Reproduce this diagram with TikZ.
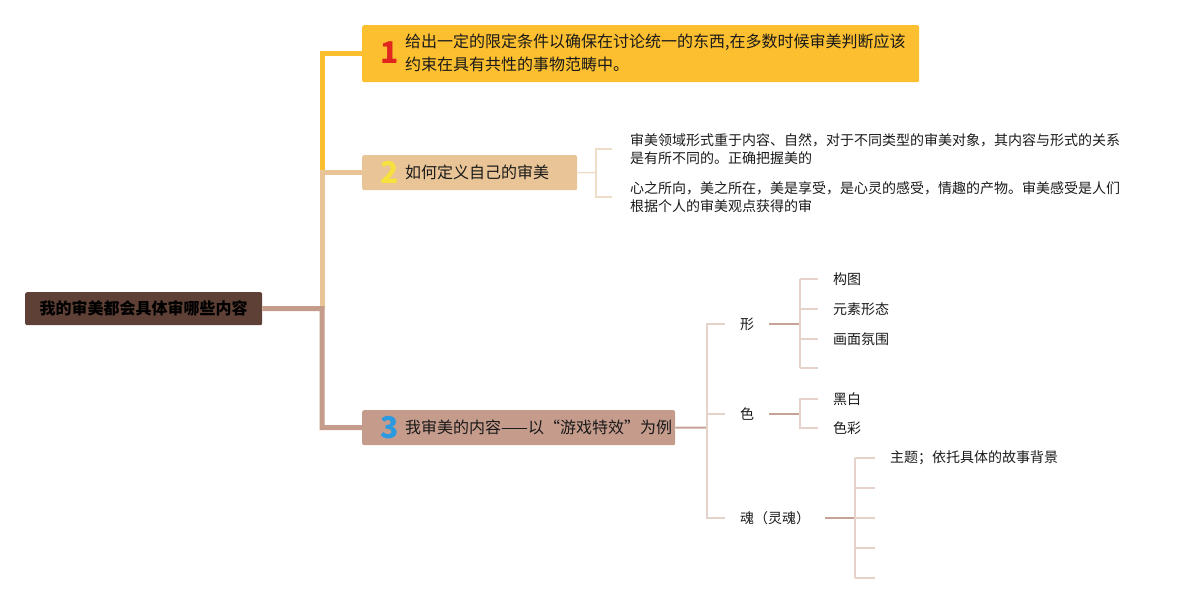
\documentclass[tikz,border=0pt]{standalone}
\usepackage{fontspec}
\setmainfont{Noto Sans CJK SC}
\usepackage{tikz}
\usetikzlibrary{positioning}
\definecolor{rootbrown}{HTML}{5F4036}
\definecolor{gold}{HTML}{FBBF2F}
\definecolor{tan}{HTML}{E8C497}
\definecolor{brn}{HTML}{C59B8C}
\definecolor{linkdk}{HTML}{C6A396}
\definecolor{linklt}{HTML}{E4D2CB}
\definecolor{linktan}{HTML}{EEDDC8}
\definecolor{numred}{HTML}{E0261F}
\definecolor{numyel}{HTML}{F7E13C}
\definecolor{numblu}{HTML}{2B9AE0}
\definecolor{txt}{HTML}{1A1A1A}

\begin{document}
\begin{tikzpicture}[x=1pt, y=-1pt,
  font=\fontsize{16}{23}\selectfont,
  box/.style={rounded corners=2pt, inner sep=0pt, anchor=north west},
  num/.style={font=\fontsize{30}{30}\selectfont\bfseries, inner sep=0pt},
  btext/.style={anchor=west, align=left, inner sep=0pt, text=txt},
  trunk/.style={line width=5pt},
  leaf/.style={anchor=west, inner xsep=15pt, inner ysep=2pt, align=left,
               font=\fontsize{14}{18}\selectfont, text=txt},
  lnk/.style={line width=2pt, linkdk},
  stub/.style={line width=2pt, linklt},
  tstub/.style={line width=1.5pt, linktan}
]
\useasboundingbox (0,0) rectangle (1189,603);
% ----- root and main branches -----
\node[box, fill=rootbrown, minimum width=237, minimum height=33,
      font=\fontsize{16}{20}\selectfont\bfseries] (root) at (25,292) {我的审美都会具体审哪些内容};
\node[box, fill=gold, minimum width=557, minimum height=57] (b1) at (362,25) {};
\node[num, numred] (n1) at (390,53) {1};
\node[btext] (t1) at (405,53) {给出一定的限定条件以确保在讨论统一的东西,在多数时候审美判断应该\\约束在具有共性的事物范畴中。};
\node[box, fill=tan, minimum width=215, minimum height=35] (b2) at (362,155) {};
\node[num, numyel] (n2) at (390,172.5) {2};
\node[btext] (t2) at (405,172.5) {如何定义自己的审美};
\node[box, fill=brn, minimum width=313, minimum height=35] (b3) at (362,410) {};
\node[num, numblu] (n3) at (390,427.5) {3};
\node[btext] (t3) at (405,427.5) {我审美的内容——以“游戏特效”为例};
% ----- trunk -----
\coordinate (hub) at (322,308.5);
\draw[trunk, gold] (b1.west) -| (hub |- b2.west);
\draw[trunk, tan] (b2.west) -| (hub);
\draw[trunk, brn] (root.east) -- (hub) |- (b3.west);
% ----- branch 2 -----
\coordinate (j2) at (596,172.5);
\node[leaf, inner xsep=18pt] (d1) at (612,149) {审美领域形式重于内容、自然，对于不同类型的审美对象，其内容与形式的关系\\是有所不同的。正确把握美的};
\node[leaf, inner xsep=18pt] (d2) at (612,197) {心之所向，美之所在，美是享受，是心灵的感受，情趣的产物。审美感受是人们\\根据个人的审美观点获得的审};
\draw[tstub] (b2.east) -- (j2);
\draw[tstub] (d1.west) -| (j2 |- d2.west) -- (d2.west);
% ----- branch 3 -----
\coordinate (j3) at (707,427.5);
\node[leaf] (xing) at (725,324) {形};
\node[leaf] (se)   at (725,414) {色};
\node[leaf] (hun)  at (725,518) {魂（灵魂）};
\draw[lnk] (b3.east) -- (j3);
\draw[stub] (xing.west) -| (j3 |- hun.west) -- (hun.west);
\draw[stub] (se.west) -- (se.west -| j3);
% ----- 形 -----
\coordinate (jx) at (800,324);
\node[leaf] (gt) at (818,279) {构图};
\node[leaf] (ys) at (818,309) {元素形态};
\node[leaf] (hm) at (818,339) {画面氛围};
\node[leaf] (x4) at (818,368) {};
\draw[lnk] (xing.east) -- (jx);
\draw[stub] (jx |- gt.west) -- (jx |- x4.west);
\foreach \n in {gt,ys,hm,x4}{\draw[stub] (jx |- \n.west) -- (\n.west);}
% ----- 色 -----
\coordinate (js) at (800,414);
\node[leaf] (hb) at (818,399) {黑白};
\node[leaf] (sc) at (818,428) {色彩};
\draw[lnk] (se.east) -- (js);
\draw[stub] (hb.west) -| (js |- sc.west) -- (sc.west);
% ----- 魂 -----
\coordinate (jh) at (855,518);
\node[leaf] (zt) at (875,458) {主题；依托具体的故事背景};
\node[leaf] (h2) at (875,488) {};
\node[leaf] (h3) at (875,518) {};
\node[leaf] (h4) at (875,548) {};
\node[leaf] (h5) at (875,578) {};
\draw[lnk] (hun.east) -- (jh);
\draw[stub] (jh |- zt.west) -- (jh |- h5.west);
\foreach \n in {zt,h2,h3,h4,h5}{\draw[stub] (jh |- \n.west) -- (\n.west);}
\end{tikzpicture}
\end{document}
